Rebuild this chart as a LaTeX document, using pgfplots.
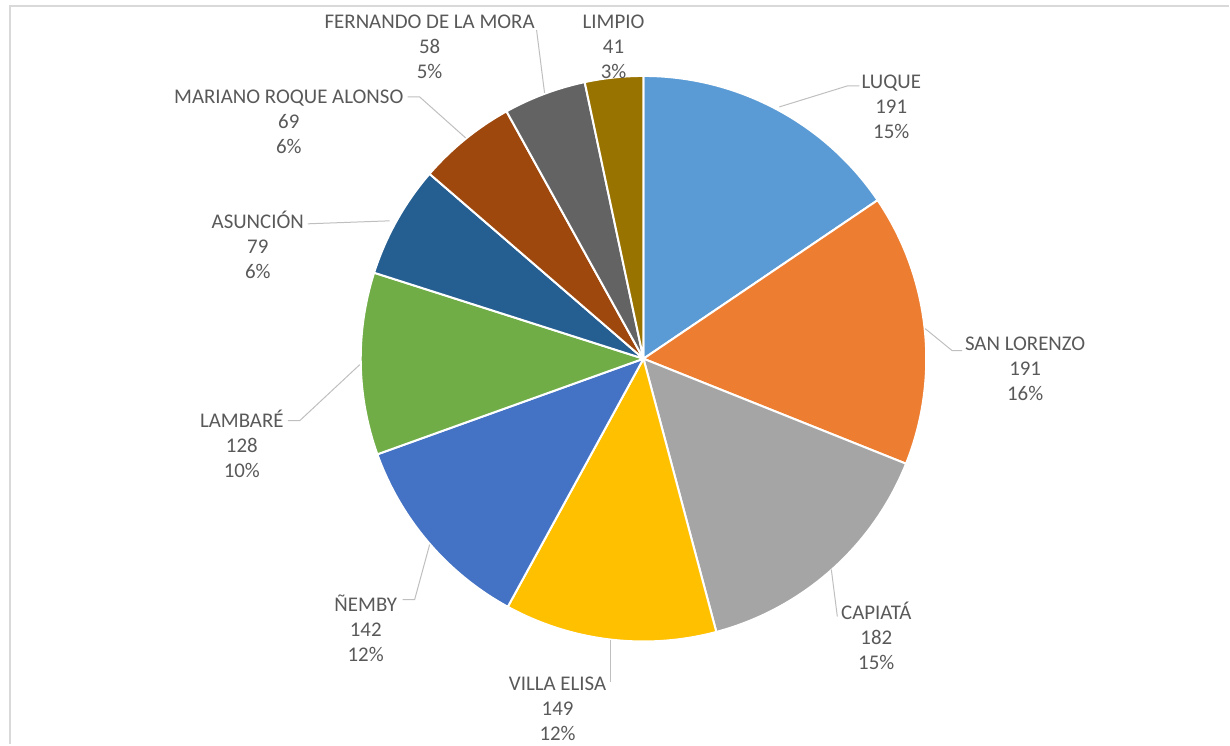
\documentclass[border=0pt]{standalone}
\usepackage{pgfplots}
\pgfplotsset{compat=1.18}
\usepackage{pgfplotstable}
\usepackage{fontspec}
\setmainfont{Carlito}
\definecolor{lq}{HTML}{5B9BD5}
\definecolor{sl}{HTML}{ED7D31}
\definecolor{cp}{HTML}{A5A5A5}
\definecolor{ve}{HTML}{FFC000}
\definecolor{nb}{HTML}{4472C4}
\definecolor{lb}{HTML}{70AD47}
\definecolor{as}{HTML}{255E91}
\definecolor{mr}{HTML}{9E480E}
\definecolor{fm}{HTML}{636363}
\definecolor{lp}{HTML}{997300}
\definecolor{txt}{HTML}{595959}
\definecolor{lead}{HTML}{BFBFBF}
\definecolor{frame}{HTML}{D9D9D9}

\pgfplotstableread{
v
191
191
182
149
142
128
79
69
58
41
}\piedata

\begin{document}
\begin{tikzpicture}
\begin{axis}[x=1pt,y=1pt,xmin=0,xmax=1230,ymin=0,ymax=745,y dir=reverse,
  hide axis,clip=false,scale only axis]
\path (axis cs:0,0) rectangle (axis cs:1230,745);
\draw[frame,line width=2pt] (axis cs:10,745) -- (axis cs:10,6) -- (axis cs:1230,6);
\pgfplotsextra{
  \gdef\tot{0}
  \foreach \i in {0,...,9}{
    \pgfplotstablegetelem{\i}{v}\of\piedata
    \pgfmathsetmacro\nt{\tot+\pgfplotsretval}
    \xdef\tot{\nt}
  }
  \gdef\cum{0}
  \foreach \c [count=\i from 0] in {lq,sl,cp,ve,nb,lb,as,mr,fm,lp}{
    \pgfplotstablegetelem{\i}{v}\of\piedata
    \pgfmathsetmacro\aS{90-\cum/\tot*360}
    \pgfmathsetmacro\aE{90-(\cum+\pgfplotsretval)/\tot*360}
    \pgfmathsetmacro\nc{\cum+\pgfplotsretval}
    \xdef\cum{\nc}
    \fill[\c,draw=white,line width=2pt,line join=round] (axis cs:644,359) -- ++(\aS:283pt) arc[start angle=\aS,end angle=\aE,radius=283pt] -- cycle;
  }
}
\draw[lead,line width=1pt] (axis cs:780,107) -- (axis cs:848,86) -- (axis cs:860,86);
\draw[lead,line width=1pt] (axis cs:926,329) -- (axis cs:953,351) -- (axis cs:963,351);
\draw[lead,line width=1pt] (axis cs:832,570) -- (axis cs:838,617);
\draw[lead,line width=1pt] (axis cs:611,641) -- (axis cs:611,683);
\draw[lead,line width=1pt] (axis cs:430,545) -- (axis cs:415,600) -- (axis cs:403,600);
\draw[lead,line width=1pt] (axis cs:360,365) -- (axis cs:300,421) -- (axis cs:288,421);
\draw[lead,line width=1pt] (axis cs:390,221) -- (axis cs:308,224);
\draw[lead,line width=1pt] (axis cs:466,138) -- (axis cs:420,97) -- (axis cs:408,97);
\draw[lead,line width=1pt] (axis cs:545,93) -- (axis cs:537,30);
\tikzset{lbl/.style={align=center,text=txt,font=\fontsize{20.9}{25}\selectfont,inner sep=0pt}}
\node[lbl] at (axis cs:892,107) {LUQUE\\191\\15\%};
\node[lbl] at (axis cs:1026,369) {SAN LORENZO\\191\\16\%};
\node[lbl] at (axis cs:877,636) {CAPIATÁ\\182\\15\%};
\node[lbl] at (axis cs:558,709) {VILLA ELISA\\149\\12\%};
\node[lbl] at (axis cs:366,629) {ÑEMBY\\142\\12\%};
\node[lbl] at (axis cs:242,444) {LAMBARÉ\\128\\10\%};
\node[lbl] at (axis cs:258,245) {ASUNCIÓN\\79\\6\%};
\node[lbl] at (axis cs:289,122) {MARIANO ROQUE ALONSO\\69\\6\%};
\node[lbl] at (axis cs:430,47) {FERNANDO DE LA MORA\\58\\5\%};
\node[lbl] at (axis cs:614,47) {LIMPIO\\41\\3\%};
\end{axis}
\end{tikzpicture}
\end{document}
